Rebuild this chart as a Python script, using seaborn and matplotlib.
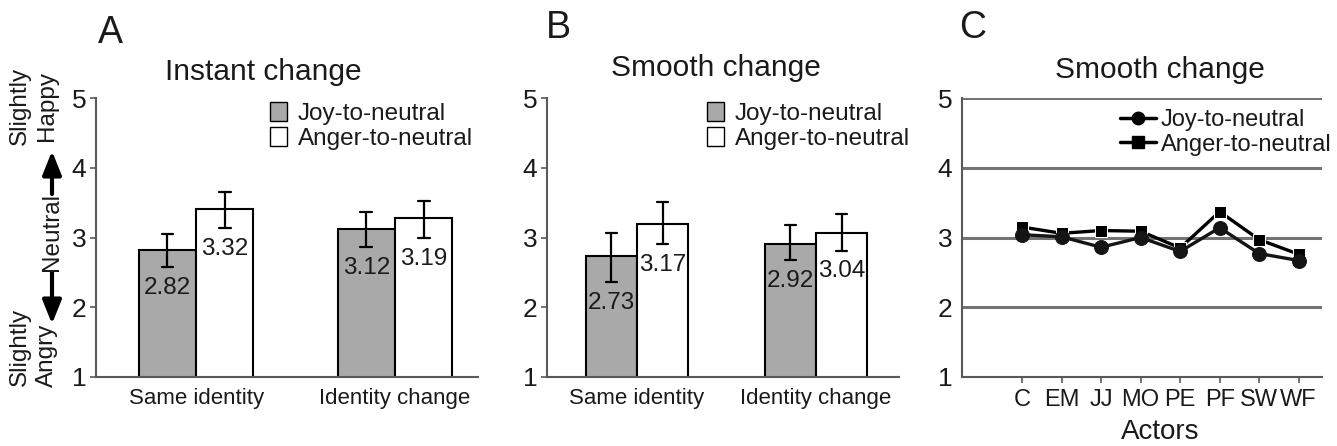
import numpy as np
import pandas as pd
import seaborn as sns
import matplotlib.pyplot as plt
from matplotlib.patches import Patch
from matplotlib.lines import Line2D

# data
conditions = ['Same identity', 'Identity change']
emotions = ['Joy-to-neutral', 'Anger-to-neutral']

# panel A: instant change
a_joy = [2.82, 3.12]
a_anger = [3.41, 3.28]
a_joy_err = [[2.58, 3.05], [2.86, 3.37]]
a_anger_err = [[3.13, 3.65], [2.99, 3.52]]
a_joy_lab = ['2.82', '3.12']
a_anger_lab = ['3.32', '3.19']

# panel B: smooth change
b_joy = [2.73, 2.91]
b_anger = [3.20, 3.06]
b_joy_err = [[2.36, 3.07], [2.68, 3.18]]
b_anger_err = [[2.90, 3.51], [2.81, 3.33]]
b_joy_lab = ['2.73', '2.92']
b_anger_lab = ['3.17', '3.04']

# panel C: per actor
actors = ['C', 'EM', 'JJ', 'MO', 'PE', 'PF', 'SW', 'WF']
c_joy = [3.04, 3.01, 2.86, 3.00, 2.80, 3.14, 2.77, 2.67]
c_anger = [3.15, 3.06, 3.10, 3.09, 2.85, 3.37, 2.97, 2.76]

yticks = [1, 2, 3, 4, 5]

sns.set_style('white')
plt.rcParams['font.family'] = ['Liberation Sans', 'DejaVu Sans']
txt = '#1a1a1a'
spine = '#5a5a5a'
gray = '#a9a9a9'

W, H = 1337, 446
fig = plt.figure(figsize=(W / 100, H / 100), dpi=100)


def fx(x):
    return x / W


def fy(y):
    return 1 - y / H


def style_axis(ax):
    ax.set_ylim(1, 5)
    ax.set_yticks(yticks)
    for s in ['top', 'right']:
        ax.spines[s].set_visible(False)
    for s in ['left', 'bottom']:
        ax.spines[s].set_color(spine)
        ax.spines[s].set_linewidth(1.5)
    ax.tick_params(axis='y', labelsize=19, colors=spine, labelcolor=txt,
                   length=4, width=1.2, pad=3, left=True)
    ax.set_xlabel('')
    ax.set_ylabel('')


def bar_panel(rect, joy, anger, joy_err, anger_err, joy_lab, anger_lab, xlim, title, title_xy):
    ax = fig.add_axes(rect)
    df = pd.DataFrame({
        'cond': conditions * 2,
        'emo': [emotions[0]] * 2 + [emotions[1]] * 2,
        'val': joy + anger,
    })
    sns.barplot(data=df, x='cond', y='val', hue='emo', hue_order=emotions,
                palette=[gray, 'white'], width=0.575, gap=0, errorbar=None,
                edgecolor='black', linewidth=1.5, saturation=1, ax=ax, legend=False)
    errs = [joy_err, anger_err]
    labs = [joy_lab, anger_lab]
    for i, cont in enumerate(ax.containers):
        for j, bar in enumerate(cont):
            xc = bar.get_x() + bar.get_width() / 2
            lo, hi = errs[i][j]
            ax.plot([xc, xc], [lo, hi], color='black', lw=1.6)
            ax.plot([xc - 0.03, xc + 0.03], [lo, lo], color='black', lw=1.6)
            ax.plot([xc - 0.03, xc + 0.03], [hi, hi], color='black', lw=1.6)
            ax.annotate(labs[i][j], (xc, lo), xytext=(0, -7), textcoords='offset points',
                        ha='center', va='top', fontsize=17.5, color=txt)
    ax.set_xlim(*xlim)
    style_axis(ax)
    ax.tick_params(axis='x', labelsize=16, labelcolor=txt, length=0, pad=8)
    handles = [Patch(facecolor=gray, edgecolor='black', lw=1),
               Patch(facecolor='white', edgecolor='black', lw=1)]
    ax.legend(handles, emotions, loc='upper left', bbox_to_anchor=(0.455, 0.985),
              frameon=False, fontsize=17.5, handlelength=0.7, handleheight=0.8,
              handletextpad=0.45, labelspacing=0.1, borderpad=0, borderaxespad=0,
              labelcolor=txt)
    fig.text(fx(title_xy[0]), fy(title_xy[1]), title, ha='center', va='center',
             fontsize=21.5, color=txt)
    return ax


axA = bar_panel([fx(96), fy(377), fx(382), 279 / H], a_joy, a_anger, a_joy_err, a_anger_err,
                a_joy_lab, a_anger_lab, (-0.503, 1.417), 'Instant change', (263, 72))
axB = bar_panel([fx(547), fy(377), fx(352), 279 / H], b_joy, b_anger, b_joy_err, b_anger_err,
                b_joy_lab, b_anger_lab, (-0.503, 1.464), 'Smooth change', (716, 68))

# panel C
axC = fig.add_axes([fx(962), fy(377), fx(360), 279 / H])
dfc = pd.DataFrame({'actor': actors * 2,
                    'emo': [emotions[0]] * 8 + [emotions[1]] * 8,
                    'val': c_joy + c_anger})
for y in [2, 3, 4, 5]:
    axC.axhline(y, color='#747474', lw=2.2, zorder=0)
sns.lineplot(data=dfc[dfc.emo == emotions[1]], x='actor', y='val', color='black',
             marker='s', markersize=9, lw=2.4, ax=axC, legend=False)
sns.lineplot(data=dfc[dfc.emo == emotions[0]], x='actor', y='val', color='#151515',
             marker='o', markersize=10, lw=2.4, markeredgecolor='#151515', ax=axC, legend=False)
axC.set_xlim(-1.52, 7.59)
style_axis(axC)
axC.tick_params(axis='y', length=0, pad=7)
axC.tick_params(axis='x', labelsize=17, labelcolor=txt, colors=spine, length=4,
                width=1.2, pad=5, bottom=True)
axC.set_xlabel('Actors', fontsize=20, color=txt)
axC.xaxis.set_label_coords(0.55, -0.15)
hC = [Line2D([], [], color='black', lw=2.5, marker='o', markersize=9),
      Line2D([], [], color='black', lw=2.5, marker='s', markersize=8)]
axC.legend(hC, emotions, loc='upper left', bbox_to_anchor=(0.44, 0.96),
           frameon=False, fontsize=17, handlelength=1.5, handletextpad=0.2,
           labelspacing=0.1, borderpad=0, borderaxespad=0, labelcolor=txt)
fig.text(fx(1160), fy(70), 'Smooth change', ha='center', va='center', fontsize=21.5, color=txt)

# panel letters
for letter, x, y in [('A', 110, 33), ('B', 558, 28), ('C', 973, 28)]:
    fig.text(fx(x), fy(y), letter, ha='center', va='center', fontsize=27, color=txt)

# rating scale annotation on panel A
for s, x, y in [('Slightly', 20, 106), ('Happy', 47, 106), ('Neutral', 52, 232),
                ('Slightly', 20, 347), ('Angry', 47, 355)]:
    fig.text(fx(x), fy(y), s, rotation=90, ha='center', va='center', fontsize=17.5, color=txt)
arrow = dict(arrowstyle='-|>,head_length=0.55,head_width=0.22', lw=3, color='black',
             mutation_scale=26, shrinkA=0, shrinkB=0)
fig.add_artist(plt.Annotation('', xy=(fx(52), fy(151)), xytext=(fx(52), fy(194)),
                              xycoords='figure fraction', textcoords='figure fraction',
                              arrowprops=arrow))
fig.add_artist(plt.Annotation('', xy=(fx(52), fy(324)), xytext=(fx(52), fy(272)),
                              xycoords='figure fraction', textcoords='figure fraction',
                              arrowprops=arrow))

fig.savefig('out.png', dpi=100)
